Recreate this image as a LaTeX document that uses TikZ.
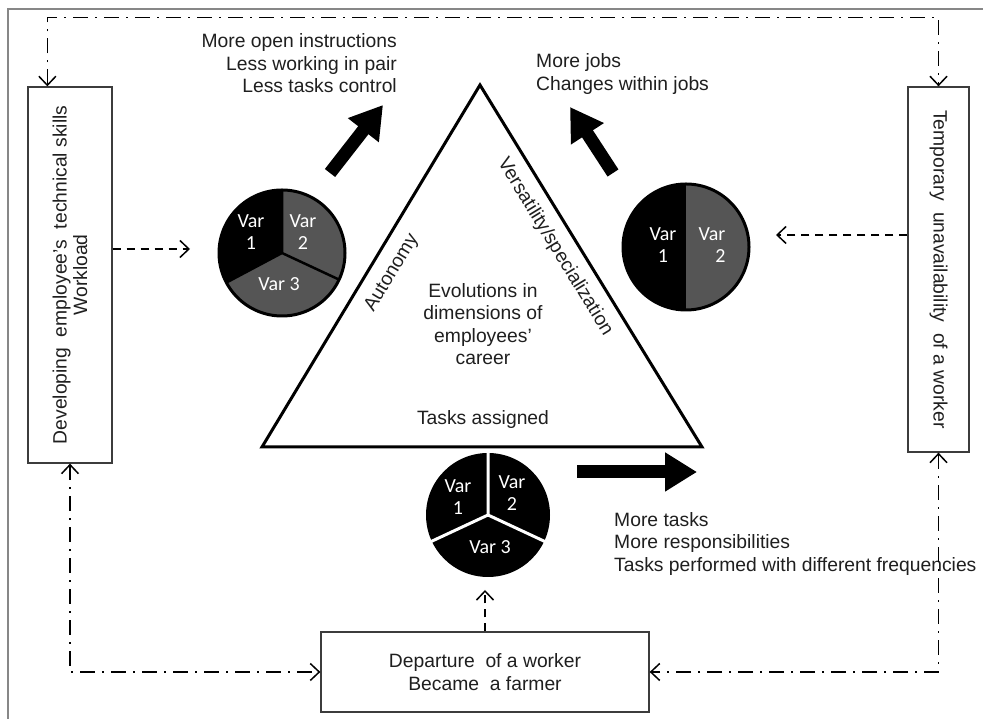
\documentclass[tikz,border=0pt]{standalone}
\usepackage{fontspec}
\setmainfont{Liberation Sans}
\newfontfamily\calfont{Carlito}
\usetikzlibrary{arrows.meta,calc}
\definecolor{piegray}{RGB}{85,85,85}
\definecolor{framegray}{RGB}{135,135,135}
\definecolor{boxgray}{RGB}{60,60,60}
\begin{document}
\begin{tikzpicture}[x=1pt,y=1pt,
  >={Straight Barb[length=9pt,width=17pt]},
  txt/.style={font=\fontsize{19.3}{22.5}\selectfont, text=black!88, inner sep=0},
  box/.style={draw=boxgray, line width=1.3pt, inner sep=0},
  pietxt/.style={font=\calfont\fontsize{20}{22}\selectfont, text=white, align=center, inner sep=0},
  dashdot/.style={line width=1.5pt, dash pattern=on 15pt off 7pt on 2pt off 7pt},
  dsh/.style={line width=1.5pt, dash pattern=on 8pt off 6pt},
  bigarrow/.style={line width=13pt, -{Triangle[length=32pt,width=37pt]}},
  piebox/.style={circle, inner sep=0, minimum size=#1},
]
\useasboundingbox (0,0) rectangle (983,719);
\fill[white] (0,0) rectangle (983,719);
% outer frame
\draw[framegray, line width=2pt] (8,-5) -- (8,710) -- (990,710);

% boxes
\node[box, minimum width=84, minimum height=376] (lbox) at (70,444) {};
\node[txt, rotate=90, align=center, font=\fontsize{19.3}{20.5}\selectfont] (ltext) at (lbox.center) {Developing\ \ employee's\ \ technical skills\\Workload};
\node[box, minimum width=61, minimum height=365] (rbox) at (938.5,449.5) {};
\node[txt, rotate=-90, align=center] (rtext) at (rbox.center) {Temporary\ \ unavailability\ \ of a worker};
\node[box, minimum width=328, minimum height=80] (bbox) at (485,47) {};
\node[txt, align=center] (btext) at (bbox.center) {Departure\ \ of a worker\\Became\ \ a farmer};

% triangle
\coordinate (tA) at (480,634);
\coordinate (tB) at (262,272);
\coordinate (tC) at (702,272);
\draw[line width=3pt, line join=miter] (tA) -- (tB) -- (tC) -- cycle;
\node[txt, align=center] (evo) at (483,395) {Evolutions in\\dimensions of\\employees'\\career};
\node[txt] (tasks) at (483,299) {Tasks assigned};
\node[txt, rotate=59] (auto) at (392,446) {Autonomy};
\node[txt, rotate=-58.5] (vers) at (555,472) {Versatility/specialization};

% texts
\node[txt, anchor=east, align=right] (t1) at (397,655.5) {More open instructions\\Less working in pair\\Less tasks control};
\node[txt, anchor=west, align=left] (t2) at (536,645) {More jobs\\Changes within jobs};
\node[txt, anchor=west, align=left] (t3) at (614,175.3) {More tasks\\More responsibilities\\Tasks performed with different frequencies};

% left pie
\node[piebox=126] (lpie) at (282,466) {};
\fill[black] (lpie.center) -- ++(90:63) arc[start angle=90,end angle=208,radius=63] -- cycle;
\fill[piegray] (lpie.center) -- ++(-25:63) arc[start angle=-25,end angle=90,radius=63] -- cycle;
\fill[piegray] (lpie.center) -- ++(208:63) arc[start angle=208,end angle=335,radius=63] -- cycle;
\draw[line width=2.5pt] (lpie.center) -- ++(90:63) (lpie.center) -- ++(-25:63) (lpie.center) -- ++(208:63);
\draw[line width=3pt] (lpie.center) circle[radius=63];
\node[pietxt] at (251,487) {Var\\1};
\node[pietxt] at (303,487) {Var\\2};
\node[pietxt] at (279,435) {Var 3};

% right pie
\node[piebox=126] (rpie) at (686,472) {};
\fill[black] (rpie.center) -- ++(90:63) arc[start angle=90,end angle=270,radius=63] -- cycle;
\fill[piegray] (rpie.center) -- ++(-90:63) arc[start angle=-90,end angle=90,radius=63] -- cycle;
\draw[line width=3pt] (rpie.center) circle[radius=63];
\node[pietxt] at (663,474) {Var\\1};
\node[pietxt, align=right] at (712,474) {Var\\2};

% bottom pie
\node[piebox=124] (bpie) at (488,204) {};
\fill[black] (bpie.center) circle[radius=62];
\draw[white, line width=3pt] (bpie.center) -- ++(90:63) (bpie.center) -- ++(-25:63) (bpie.center) -- ++(205:63);
\node[pietxt] at (458,222) {Var\\1};
\node[pietxt] at (512,226) {Var\\2};
\node[pietxt] at (490,172) {Var 3};

% big arrows
\coordinate (a1s) at (330,546); \coordinate (a1e) at (383,614);
\coordinate (a2s) at (613,546); \coordinate (a2e) at (570,612);
\coordinate (a3s) at (577,247); \coordinate (a3e) at (697,247);
\draw[bigarrow] (a1s) -- (a1e);
\draw[bigarrow] (a2s) -- (a2e);
\draw[bigarrow] (a3s) -- (a3e);

% dash-dot connectors
\coordinate (ltop) at ($(lbox.north west)+(20,0)$);
\draw[dashdot, <->] (ltop) -- ($(ltop)+(0,69)$) -| (rbox.north);
\draw[dashdot, <->] (lbox.south) |- (bbox.west);
\draw[dashdot, <->] (rbox.south) |- (bbox.east);

% dashed connectors
\coordinate (ldash) at (190,470);
\coordinate (rdash) at (776,484);
\coordinate (bdash) at (485,129);
\draw[dsh, ->] (lbox.east |- ldash) -- (ldash);
\draw[dsh, ->] (rbox.west |- rdash) -- (rdash);
\draw[dsh, ->] (bbox.north) -- (bdash);
\end{tikzpicture}
\end{document}
